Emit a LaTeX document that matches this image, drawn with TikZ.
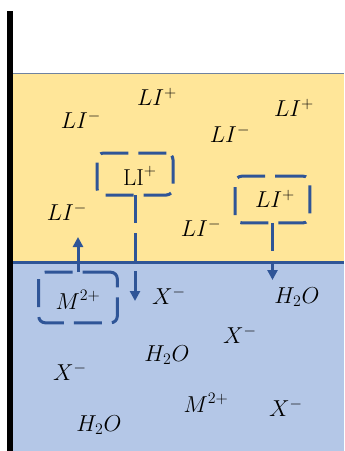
\documentclass[tikz,border=0pt]{standalone}
\usetikzlibrary{arrows.meta}
\definecolor{gold}{HTML}{FFE699}
\definecolor{paleblue}{HTML}{B4C7E7}
\definecolor{dashblue}{HTML}{2F5597}
\definecolor{edgegray}{HTML}{6F82A0}
\begin{document}
\begin{tikzpicture}[x=0.75pt,y=-0.75pt,
  lbl/.style={font=\fontsize{18.5}{22}\selectfont, inner sep=0pt},
  ionbox/.style={draw=dashblue, line width=2.25pt, dash pattern=on 21pt off 7.5pt,
    rounded corners=5pt, outer sep=0pt, inner sep=0pt},
  flow/.style={draw=dashblue, line width=2.25pt, dash pattern=on 21pt off 7.5pt,
    -{Triangle[length=7.5pt,width=7.5pt]}}]
\useasboundingbox (0,0) rectangle (344,451);
% regions
\fill[gold] (12,73) rectangle (344,262);
\fill[paleblue] (12,262) rectangle (344,451);
\draw[edgegray, line width=0.8pt] (12.4,451) -- (12.4,73.4) -- (344,73.4);
\draw[dashblue, line width=2.4pt] (12,262.5) -- (344,262.5);
\fill[black] (7,11) rectangle (13,451);
% dashed boxes
\node[ionbox, minimum width=57pt, minimum height=31.5pt] (b1) at (135,174) {};
\node[ionbox, minimum width=56pt, minimum height=35pt] (b2) at (272.5,199.5) {};
\node[ionbox, minimum width=59pt, minimum height=38pt] (b3) at (78,297.5) {};
% box texts
\node[lbl] (t1) at (140,176) {$\mathrm{LI}^{+}$};
\node[lbl] (t2) at (275,199) {$LI^{+}$};
\node[lbl] (t3) at (78,300) {$M^{2+}$};
% arrows
\coordinate (e1) at (135,301);
\coordinate (e2) at (272.5,280);
\coordinate (e3) at (78,237);
\draw[flow] (b1.south) -- (e1);
\draw[flow] (b2.south) -- (e2);
\draw[flow] (b3.north) -- (e3);
% upper labels
\node[lbl] (a1) at (81,120) {$LI^{-}$};
\node[lbl] (a2) at (157,97) {$LI^{+}$};
\node[lbl] (a3) at (230,134) {$LI^{-}$};
\node[lbl] (a4) at (294,108) {$LI^{+}$};
\node[lbl] (a5) at (67,212) {$LI^{-}$};
\node[lbl] (a6) at (201,228) {$LI^{-}$};
% lower labels
\node[lbl] (c1) at (169,296) {$X^{-}$};
\node[lbl] (c2) at (297,297) {$H_{2}O$};
\node[lbl] (c3) at (240,335) {$X^{-}$};
\node[lbl] (c4) at (167,355) {$H_{2}O$};
\node[lbl] (c5) at (70,372) {$X^{-}$};
\node[lbl] (c6) at (206,403) {$M^{2+}$};
\node[lbl] (c7) at (286,408) {$X^{-}$};
\node[lbl] (c8) at (99,425) {$H_{2}O$};
\end{tikzpicture}
\end{document}
